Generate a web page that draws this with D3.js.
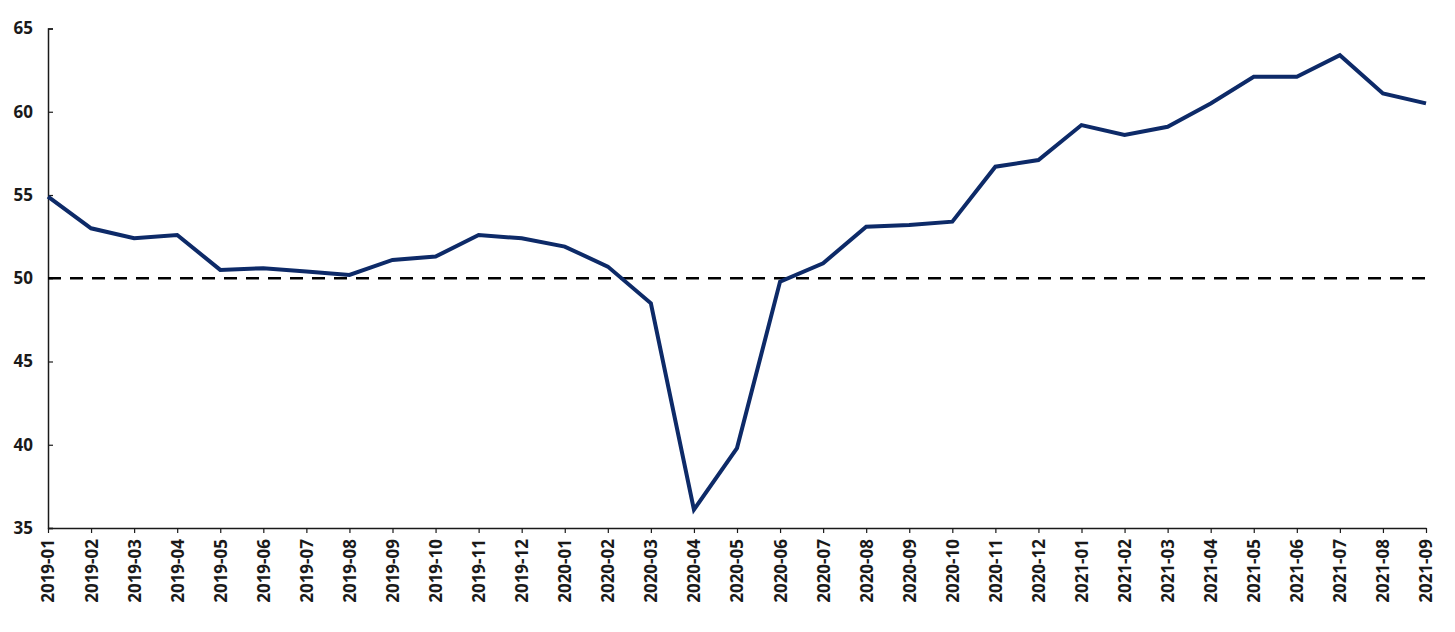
<!DOCTYPE html>
<html>
<head>
<meta charset="utf-8">
<script src="https://cdn.jsdelivr.net/npm/d3@7"></script>
<style>
  html, body { margin: 0; padding: 0; background: #fff; }
  svg { display: block; }
  .tick text { font-family: "Open Sans", "Noto Sans", sans-serif; font-weight: 700; font-size: 17px; fill: #1a1a1a; }
</style>
</head>
<body>
<svg id="chart" width="1455" height="632"></svg>
<script>
const months = ["2019-01","2019-02","2019-03","2019-04","2019-05","2019-06","2019-07","2019-08","2019-09","2019-10","2019-11","2019-12",
  "2020-01","2020-02","2020-03","2020-04","2020-05","2020-06","2020-07","2020-08","2020-09","2020-10","2020-11","2020-12",
  "2021-01","2021-02","2021-03","2021-04","2021-05","2021-06","2021-07","2021-08","2021-09"];
const values = [54.9,53.0,52.4,52.6,50.5,50.6,50.4,50.2,51.1,51.3,52.6,52.4,
  51.9,50.7,48.5,36.1,39.8,49.8,50.9,53.1,53.2,53.4,56.7,57.1,
  59.2,58.6,59.1,60.5,62.1,62.1,63.4,61.1,60.5];
const yTicks = [35,40,45,50,55,60,65];
const threshold = 50;

const svg = d3.select("#chart");
const mLeft = 48, mRight = 1426, mTop = 28.5, mBottom = 528;

const x = d3.scalePoint().domain(months).range([mLeft, mRight]);
const y = d3.scaleLinear().domain([35, 65]).range([mBottom, mTop]);

// y axis
const yAxis = svg.append("g").attr("transform", `translate(${mLeft},0)`)
  .call(d3.axisLeft(y).tickValues(yTicks).tickSize(-5).tickPadding(15));
yAxis.select(".domain").attr("stroke", "#1a1a1a").attr("stroke-width", 1.5);
yAxis.selectAll(".tick line").attr("stroke", "#1a1a1a").attr("stroke-width", 1.2);

// x axis
const xAxis = svg.append("g").attr("transform", `translate(0,${mBottom})`)
  .call(d3.axisBottom(x).tickSize(5).tickSizeOuter(0));
xAxis.select(".domain").attr("stroke", "#1a1a1a").attr("stroke-width", 1.5);
xAxis.selectAll(".tick line").attr("stroke", "#1a1a1a").attr("stroke-width", 1.2);
xAxis.selectAll(".tick text")
  .attr("transform", "rotate(-90)")
  .attr("text-anchor", "end")
  .attr("x", -11)
  .attr("y", 0)
  .attr("dy", "0.35em");

// threshold dashed line
svg.append("line")
  .attr("x1", mLeft).attr("x2", mRight)
  .attr("y1", y(threshold)).attr("y2", y(threshold))
  .attr("stroke", "#000").attr("stroke-width", 2.6)
  .attr("stroke-dasharray", "13,9");

// series line
const line = d3.line().x((d, i) => x(months[i])).y(d => y(d));
svg.append("path")
  .datum(values)
  .attr("fill", "none")
  .attr("stroke", "#0d2a68")
  .attr("stroke-width", 4)
  .attr("stroke-linejoin", "miter")
  .attr("d", line);
</script>
</body>
</html>
